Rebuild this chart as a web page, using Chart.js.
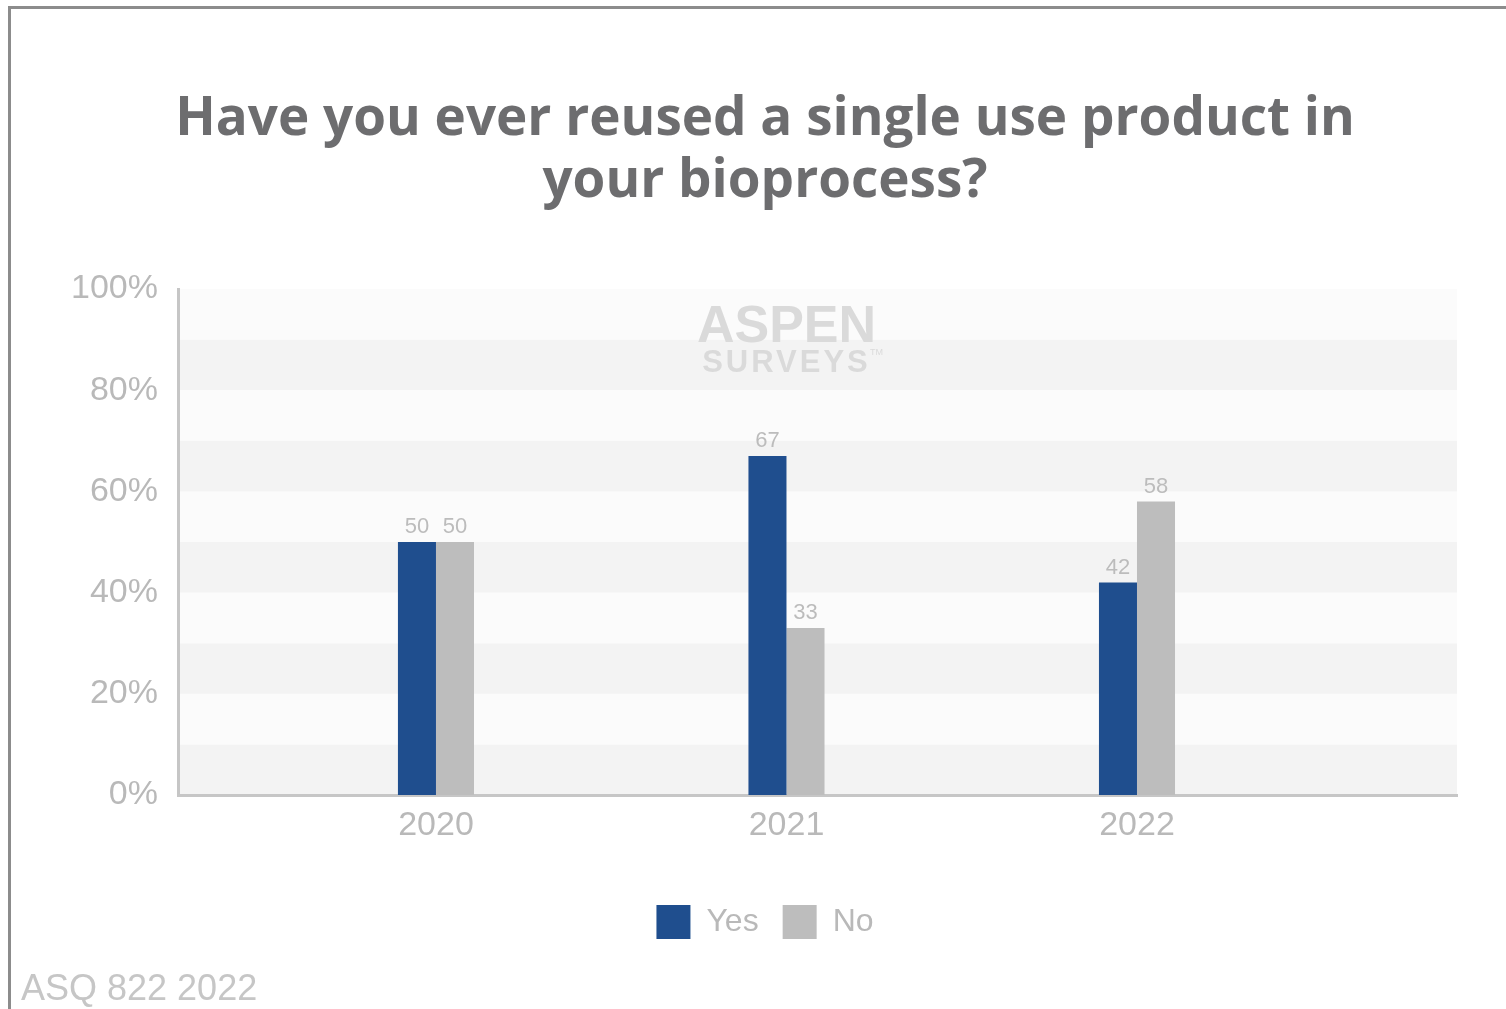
<!DOCTYPE html>
<html><head><meta charset="utf-8">
<script src="https://cdn.jsdelivr.net/npm/chart.js@4/dist/chart.umd.min.js"></script>
<style>
html,body{margin:0;padding:0;background:#fff;overflow:hidden;width:1506px;height:1009px;}
#frame{position:absolute;left:8px;top:6px;width:1600px;height:1100px;border-top:3px solid #8c8c8c;border-left:3px solid #8c8c8c;}
#wrap{position:absolute;left:11px;top:9px;width:1508px;height:1000px;}
#foot{position:absolute;left:21px;top:967px;font:36px "Liberation Sans",Arial,sans-serif;color:#c6c6c6;white-space:nowrap;}
</style></head><body>
<div id="frame"></div>
<div id="wrap"><canvas id="c" width="1508" height="1000"></canvas></div>
<div id="foot">ASQ 822 2022</div>
<script>
const categories = ['2020', '2021', '2022'];
const yesValues = [50, 67, 42];
const noValues = [50, 33, 58];
const seriesNames = ['Yes', 'No'];
const titleLines = ['Have you ever reused a single use product in', 'your bioprocess?'];

const TICK_COLOR = '#b9b9b9';
const BLUE = '#1f4e8e';
const GREY = '#bdbdbd';

const bandPlugin = {
  id: 'bands',
  beforeDraw(chart) {
    const {ctx, chartArea, scales: {y}} = chart;
    ctx.save();
    for (let v = 0; v < 100; v += 10) {
      const top = y.getPixelForValue(v + 10), bot = y.getPixelForValue(v);
      ctx.fillStyle = (v / 10) % 2 === 0 ? '#f3f3f3' : '#fbfbfb';
      ctx.fillRect(chartArea.left, top, chartArea.right - chartArea.left, bot - top);
    }
    ctx.restore();
  }
};

const watermarkPlugin = {
  id: 'watermark',
  beforeDatasetsDraw(chart) {
    const {ctx, chartArea, scales: {x}} = chart;
    const cx = x.getPixelForValue(1);
    ctx.save();
    ctx.fillStyle = '#dadada';
    ctx.textAlign = 'center';
    ctx.textBaseline = 'alphabetic';
    ctx.font = 'bold 52px "Liberation Sans", Arial, sans-serif';
    ctx.fillText('ASPEN', cx, chartArea.top + 53);
    ctx.font = 'bold 31px "Liberation Sans", Arial, sans-serif';
    ctx.letterSpacing = '3px';
    ctx.fillText('SURVEYS', cx, chartArea.top + 83);
    ctx.letterSpacing = '0px';
    ctx.font = '9px "Liberation Sans", Arial, sans-serif';
    ctx.fillText('TM', cx + 90, chartArea.top + 66);
    ctx.restore();
  }
};

const labelPlugin = {
  id: 'barLabels',
  afterDatasetsDraw(chart) {
    const {ctx} = chart;
    ctx.save();
    ctx.fillStyle = '#bcbcbc';
    ctx.font = '22px "Liberation Sans", Arial, sans-serif';
    ctx.textAlign = 'center';
    ctx.textBaseline = 'bottom';
    chart.data.datasets.forEach((ds, i) => {
      const meta = chart.getDatasetMeta(i);
      meta.data.forEach((bar, j) => {
        ctx.fillText(String(ds.data[j].y), bar.x, bar.y - 4);
      });
    });
    ctx.restore();
  }
};

new Chart(document.getElementById('c'), {
  type: 'bar',
  data: {
    datasets: [
      {label: seriesNames[0], data: yesValues.map((v, i) => ({x: i, y: v})), backgroundColor: BLUE, borderWidth: 0},
      {label: seriesNames[1], data: noValues.map((v, i) => ({x: i, y: v})), backgroundColor: GREY, borderWidth: 0}
    ]
  },
  options: {
    responsive: false,
    animation: false,
    events: [],
    categoryPercentage: 0.217,
    barPercentage: 1.0,
    layout: {padding: {left: 62, right: 62, top: 0, bottom: 60}},
    plugins: {
      title: {
        display: true,
        text: titleLines,
        color: '#6d6d6f',
        font: {family: '"Open Sans", sans-serif', size: 53, weight: 'bold', lineHeight: 1.17},
        padding: {top: 80, bottom: 76}
      },
      legend: {
        position: 'bottom',
        labels: {
          boxWidth: 34, boxHeight: 34, padding: 24,
          color: TICK_COLOR,
          font: {family: '"Liberation Sans", Arial, sans-serif', size: 32}
        }
      },
      tooltip: {enabled: false}
    },
    scales: {
      x: {
        type: 'linear',
        min: -0.736, max: 2.913,
        offset: false,
        grid: {display: false, drawTicks: false},
        border: {display: true, color: '#c6c6c6', width: 3},
        ticks: {
          stepSize: 1, includeBounds: false, padding: 10, autoSkip: false,
          color: TICK_COLOR,
          font: {family: '"Liberation Sans", Arial, sans-serif', size: 34},
          callback: (v) => Number.isInteger(v) && categories[v] !== undefined ? categories[v] : ''
        },
        afterFit: (s) => { s.height = 86; }
      },
      y: {
        min: 0, max: 100,
        grid: {display: false, drawTicks: false},
        border: {display: true, color: '#c6c6c6', width: 3},
        ticks: {
          stepSize: 20, padding: 20,
          color: TICK_COLOR,
          font: {family: '"Liberation Sans", Arial, sans-serif', size: 34},
          callback: (v) => v + '%'
        },
        afterFit: (s) => { s.width = 105; }
      }
    }
  },
  plugins: [bandPlugin, watermarkPlugin, labelPlugin]
});
</script>
</body></html>
